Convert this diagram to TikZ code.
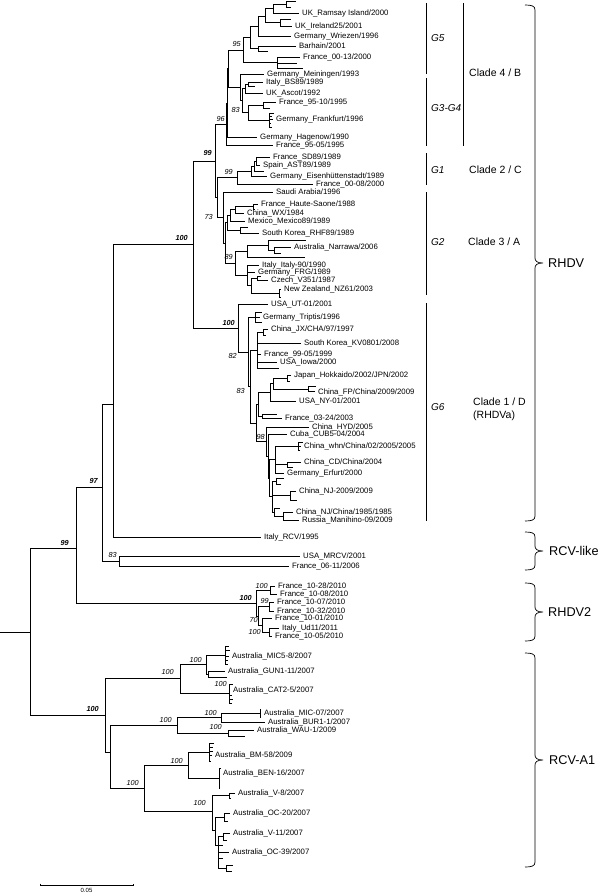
\documentclass[tikz,border=0pt]{standalone}
\usepackage{fontspec}
\setmainfont{Liberation Sans}
\usetikzlibrary{positioning}

\begin{document}
\begin{tikzpicture}[x=1pt,y=-1pt,
   every edge/.style={draw,line width=.7pt,to path={|- (\tikztotarget)}},
   taxon/.style={inner sep=0pt,text height=5.6pt,text depth=0pt,font=\fontsize{7.8}{9}\selectfont},
   boot/.style={inner sep=0pt,anchor=east,text height=5.3pt,text depth=0pt,font=\fontsize{7.3}{9}\selectfont\itshape},
   bboot/.style={boot,font=\fontsize{7.3}{9}\selectfont\bfseries\itshape},
   group/.style={inner sep=0pt,anchor=west,text height=7.2pt,text depth=0pt,font=\fontsize{10}{12}\selectfont\itshape},
   clade/.style={inner sep=0pt,anchor=west,text height=7.5pt,text depth=0pt,font=\fontsize{10.5}{13}\selectfont},
   virus/.style={inner sep=0pt,anchor=west,text height=9.1pt,text depth=0pt,font=\fontsize{12.7}{15}\selectfont},
   gbar/.style={line width=.7pt},
   grpbrace/.style={line width=.7pt}]
   \useasboundingbox (0,0) rectangle (600,894);

   \coordinate (base) at (0,632);
   \coordinate (root) at (30,632);
   \coordinate (n76) at (76,548);
   \coordinate (n102) at (102,487);
   \coordinate (n113) at (113,404);
   \coordinate (n119) at (119,561);
   \coordinate (rhdv) at (193,244);
   \coordinate (r2) at (256,603);
   \coordinate (a1) at (105,715);

   \draw[line width=.7pt] (base) -- (root);
   \path (root) edge (n76) edge (a1);
   \path (n76) edge (n102) edge (r2);
   \path (n102) edge (n113) edge (n119);

   % clade 4 / B
   \coordinate (n215) at (215,161);
   \coordinate (c4) at (226,124);
   \coordinate (k1) at (227,103);
   \coordinate (k2) at (228,68);
   \coordinate (g5) at (243,50);
   \coordinate (g5a) at (250,37);
   \coordinate (t0) at (258,26);
   \coordinate (t1) at (265,16);
   \coordinate (t2) at (273,8.5);
   \coordinate (t3) at (286,4.2);
   \coordinate (irl) at (280,22.5);
   \coordinate (barh) at (258,48.5);
   \coordinate (f0013) at (277,62.5);
   \coordinate (g34) at (240,87);
   \coordinate (g34a) at (242,100.5);
   \coordinate (g34b) at (245,88.5);
   \coordinate (bsn) at (248,84);
   \coordinate (g83) at (248,112.5);
   \coordinate (f9510) at (263,105);
   \coordinate (frank) at (269,120);
   \coordinate (l1) at (296,1.5);
   \coordinate (l2) at (291,7);
   \coordinate (ramsay) at (299,13);
   \coordinate (l3) at (291,19);
   \coordinate (ireland) at (292,26);
   \coordinate (wriezen) at (291,36);
   \coordinate (barhain) at (296,46);
   \coordinate (l4) at (268,51);
   \coordinate (fr0013) at (300,57);
   \coordinate (l5) at (297,63);
   \coordinate (l6) at (303,68);
   \coordinate (meiningen) at (264,74);
   \coordinate (bs89) at (263,82);
   \coordinate (l7) at (255,86);
   \coordinate (ascot) at (263,93);
   \coordinate (fr9510) at (276,102);
   \coordinate (l8) at (270,108);
   \coordinate (l9) at (274,113);
   \coordinate (l10) at (272,116);
   \coordinate (frankfurt) at (273,119);
   \coordinate (l11) at (271,123);
   \coordinate (l12) at (272,127);
   \coordinate (hagenow) at (257,137);
   \coordinate (fr9505) at (273,145);

   \path (c4) edge (k1) edge (fr9505);
   \path (k1) edge (k2) edge (hagenow);
   \path (k2) edge (g5) edge (g34);
   \path (g5) edge (g5a) edge (f0013);
   \path (g5a) edge (t0) edge (barh);
   \path (t0) edge (t1) edge (wriezen);
   \path (t1) edge (t2) edge (irl);
   \path (t2) edge (t3) edge (ramsay);
   \path (t3) edge (l1) edge (l2);
   \path (irl) edge (l3) edge (ireland);
   \path (barh) edge (barhain) edge (l4);
   \path (f0013) edge (fr0013) edge (l5) edge (l6);
   \path (g34) edge (meiningen) edge (g34a);
   \path (g34a) edge (g34b) edge (g83);
   \path (g34b) edge (bsn) edge (ascot);
   \path (bsn) edge (bs89) edge (l7);
   \path (g83) edge (f9510) edge (frank);
   \path (f9510) edge (fr9510) edge (l8);
   \path (frank) edge (l9) edge (l10) edge (frankfurt) edge (l11) edge (l12);

   \node[taxon,right=3pt of ramsay] (t-ramsay) {UK\_Ramsay Island/2000};
   \node[taxon,right=3pt of ireland] (t-ireland) {UK\_Ireland25/2001};
   \node[taxon,right=3pt of wriezen] (t-wriezen) {Germany\_Wriezen/1996};
   \node[taxon,right=3pt of barhain] (t-barhain) {Barhain/2001};
   \node[taxon,right=3pt of fr0013] (t-fr0013) {France\_00-13/2000};
   \node[taxon,right=3pt of meiningen] (t-meiningen) {Germany\_Meiningen/1993};
   \node[taxon,right=3pt of bs89] (t-bs89) {Italy\_BS89/1989};
   \node[taxon,right=3pt of ascot] (t-ascot) {UK\_Ascot/1992};
   \node[taxon,right=3pt of fr9510] (t-fr9510) {France\_95-10/1995};
   \node[taxon,right=3pt of frankfurt] (t-frankfurt) {Germany\_Frankfurt/1996};
   \node[taxon,right=3pt of hagenow] (t-hagenow) {Germany\_Hagenow/1990};
   \node[taxon,right=3pt of fr9505] (t-fr9505) {France\_95-05/1995};

   % clades 2 / C and 3 / A
   \coordinate (n217) at (217,197.5);
   \coordinate (g1) at (237,177.5);
   \coordinate (g1a) at (251,171);
   \coordinate (g1b) at (254,166);
   \coordinate (g1c) at (256,161);
   \coordinate (sd89) at (270,157);
   \coordinate (ast89) at (260,165);
   \coordinate (l13) at (264,171);
   \coordinate (eisen) at (267,176);
   \coordinate (fr0008) at (313,184);
   \coordinate (g2) at (223,217.5);
   \coordinate (g2b) at (225,243);
   \coordinate (h5) at (227,222.5);
   \coordinate (h3) at (230,215);
   \coordinate (h2) at (235,209.5);
   \coordinate (h1) at (253,206.5);
   \coordinate (h4) at (240,230);
   \coordinate (n89) at (235,263);
   \coordinate (narA) at (247,251);
   \coordinate (narB) at (268,245);
   \coordinate (narC) at (274,250);
   \coordinate (i3) at (247,275);
   \coordinate (i2) at (251,285.5);
   \coordinate (i1) at (257,278);
   \coordinate (nzn) at (279,293);
   \coordinate (saudi) at (273,192);
   \coordinate (haute) at (258,204);
   \coordinate (l14) at (255,209);
   \coordinate (wx) at (244,213);
   \coordinate (mexico) at (245,221);
   \coordinate (l15) at (248,227);
   \coordinate (rhf89) at (259,233);
   \coordinate (l16) at (306,240);
   \coordinate (narrawa) at (291,247);
   \coordinate (l17) at (281,253);
   \coordinate (l18) at (305,257);
   \coordinate (italy90) at (259,265);
   \coordinate (frg) at (255,272);
   \coordinate (l19) at (261,276);
   \coordinate (czech) at (268,280);
   \coordinate (nz61) at (281,289);
   \coordinate (l20) at (280,293);
   \coordinate (l21) at (281,297);

   \path (n215) edge (c4) edge (n217);
   \path (n217) edge (g1) edge (g2);
   \path (g1) edge (g1a) edge (fr0008);
   \path (g1a) edge (g1b) edge (eisen);
   \path (g1b) edge (g1c) edge (l13);
   \path (g1c) edge (sd89) edge (ast89);
   \path (g2) edge (saudi) edge (g2b);
   \path (g2b) edge (h5) edge (n89);
   \path (h5) edge (h3) edge (h4);
   \path (h3) edge (h2) edge (mexico);
   \path (h2) edge (h1) edge (wx);
   \path (h1) edge (haute) edge (l14);
   \path (h4) edge (l15) edge (rhf89);
   \path (n89) edge (narA) edge (i3);
   \path (narA) edge (narB) edge (l18);
   \path (narB) edge (l16) edge (narC);
   \path (narC) edge (narrawa) edge (l17);
   \path (i3) edge (italy90) edge (frg) edge (i2);
   \path (i2) edge (i1) edge (nzn);
   \path (i1) edge (l19) edge (czech);
   \path (nzn) edge (nz61) edge (l20) edge (l21);

   \node[taxon,right=3pt of sd89] (t-sd89) {France\_SD89/1989};
   \node[taxon,right=3pt of ast89] (t-ast89) {Spain\_AST89/1989};
   \node[taxon,right=3pt of eisen] (t-eisen) {Germany\_Eisenhüttenstadt/1989};
   \node[taxon,right=3pt of fr0008] (t-fr0008) {France\_00-08/2000};
   \node[taxon,right=3pt of saudi] (t-saudi) {Saudi Arabia/1996};
   \node[taxon,right=3pt of haute] (t-haute) {France\_Haute-Saone/1988};
   \node[taxon,right=3pt of wx] (t-wx) {China\_WX/1984};
   \node[taxon,right=3pt of mexico] (t-mexico) {Mexico\_Mexico89/1989};
   \node[taxon,right=3pt of rhf89] (t-rhf89) {South Korea\_RHF89/1989};
   \node[taxon,right=3pt of narrawa] (t-narrawa) {Australia\_Narrawa/2006};
   \node[taxon,right=3pt of italy90] (t-italy90) {Italy\_Italy-90/1990};
   \node[taxon,right=3pt of frg] (t-frg) {Germany\_FRG/1989};
   \node[taxon,right=3pt of czech] (t-czech) {Czech\_V351/1987};
   \node[taxon,right=3pt of nz61] (t-nz61) {New Zealand\_NZ61/2003};

   % clade 1 / D
   \coordinate (g6) at (238,328);
   \coordinate (n82) at (248,352);
   \coordinate (trip) at (255,317);
   \coordinate (n83) at (250,386.5);
   \coordinate (jxc) at (257,350);
   \coordinate (jxn) at (263,332);
   \coordinate (lowc) at (256,423);
   \coordinate (upg) at (258,404);
   \coordinate (jfny) at (270,392);
   \coordinate (jfn) at (273,383.5);
   \coordinate (jpn) at (287,378);
   \coordinate (fpn) at (308,389);
   \coordinate (f0324) at (262,416);
   \coordinate (n98) at (266,441.5);
   \coordinate (m1) at (268,456);
   \coordinate (m2) at (269,478);
   \coordinate (m3) at (275,459.5);
   \coordinate (whn) at (298,446);
   \coordinate (cdn) at (287,464.5);
   \coordinate (m5) at (272,496.5);
   \coordinate (ersm) at (276,481);
   \coordinate (nj09n) at (290,495.5);
   \coordinate (njr) at (274,512);
   \coordinate (nj85n) at (283,516);
   \coordinate (ut01) at (268,304);
   \coordinate (l22) at (262,312);
   \coordinate (triptis) at (260,317);
   \coordinate (l23) at (262,322);
   \coordinate (jx97) at (268,329);
   \coordinate (l24) at (266,335);
   \coordinate (kv0801) at (301,343);
   \coordinate (fr9905) at (261,354);
   \coordinate (iowa) at (277,362);
   \coordinate (l25) at (279,368);
   \coordinate (hokkaido) at (291,375);
   \coordinate (l26) at (290,381);
   \coordinate (l27) at (316,386.5);
   \coordinate (fp09) at (315,391.5);
   \coordinate (ny01) at (296,401);
   \coordinate (l28) at (277,414);
   \coordinate (fr0324) at (282,418);
   \coordinate (hyd) at (309,427);
   \coordinate (cub5) at (287,434);
   \coordinate (l29) at (303,442);
   \coordinate (whn05) at (301,446);
   \coordinate (l30) at (300,450);
   \coordinate (cd04) at (301,462);
   \coordinate (l31) at (293,467);
   \coordinate (erfurt) at (284,473);
   \coordinate (l32) at (284,478);
   \coordinate (l33) at (281,484);
   \coordinate (nj09) at (296,491);
   \coordinate (l34) at (297,500);
   \coordinate (l35) at (280,508);
   \coordinate (nj85) at (293,512);
   \coordinate (manihino) at (299,520);

   \path (rhdv) edge (n215) edge (g6);
   \path (g6) edge (ut01) edge (n82);
   \path (n82) edge (trip) edge (n83);
   \path (trip) edge (l22) edge (triptis) edge (l23);
   \path (n83) edge (jxc) edge (lowc);
   \path (jxc) edge (jxn) edge (kv0801) edge (fr9905) edge (iowa) edge (l25);
   \path (jxn) edge (jx97) edge (l24);
   \path (lowc) edge (upg) edge (n98);
   \path (upg) edge (jfny) edge (f0324);
   \path (jfny) edge (jfn) edge (ny01);
   \path (jfn) edge (jpn) edge (fpn);
   \path (jpn) edge (hokkaido) edge (l26);
   \path (fpn) edge (l27) edge (fp09);
   \path (f0324) edge (l28) edge (fr0324);
   \path (n98) edge (hyd) edge (m1);
   \path (m1) edge (cub5) edge (m2);
   \path (m2) edge (m3) edge (m5);
   \path (m3) edge (whn) edge (cdn) edge (erfurt);
   \path (whn) edge (l29) edge (whn05) edge (l30);
   \path (cdn) edge (cd04) edge (l31);
   \path (m5) edge (ersm) edge (nj09n) edge (njr);
   \path (ersm) edge (l32) edge (l33);
   \path (nj09n) edge (nj09) edge (l34);
   \path (njr) edge (l35) edge (nj85n);
   \path (nj85n) edge (nj85) edge (manihino);

   \node[taxon,right=3pt of ut01] (t-ut01) {USA\_UT-01/2001};
   \node[taxon,right=3pt of triptis] (t-triptis) {Germany\_Triptis/1996};
   \node[taxon,right=3pt of jx97] (t-jx97) {China\_JX/CHA/97/1997};
   \node[taxon,right=3pt of kv0801] (t-kv0801) {South Korea\_KV0801/2008};
   \node[taxon,right=3pt of fr9905] (t-fr9905) {France\_99-05/1999};
   \node[taxon,right=3pt of iowa] (t-iowa) {USA\_Iowa/2000};
   \node[taxon,right=3pt of hokkaido] (t-hokkaido) {Japan\_Hokkaido/2002/JPN/2002};
   \node[taxon,right=3pt of fp09] (t-fp09) {China\_FP/China/2009/2009};
   \node[taxon,right=3pt of ny01] (t-ny01) {USA\_NY-01/2001};
   \node[taxon,right=3pt of fr0324] (t-fr0324) {France\_03-24/2003};
   \node[taxon,right=3pt of hyd] (t-hyd) {China\_HYD/2005};
   \node[taxon,right=3pt of cub5] (t-cub5) {Cuba\_CUB5-04/2004};
   \node[taxon,right=3pt of whn05] (t-whn05) {China\_whn/China/02/2005/2005};
   \node[taxon,right=3pt of cd04] (t-cd04) {China\_CD/China/2004};
   \node[taxon,right=3pt of erfurt] (t-erfurt) {Germany\_Erfurt/2000};
   \node[taxon,right=3pt of nj09] (t-nj09) {China\_NJ-2009/2009};
   \node[taxon,right=3pt of nj85] (t-nj85) {China\_NJ/China/1985/1985};
   \node[taxon,right=3pt of manihino] (t-manihino) {Russia\_Manihino-09/2009};

   % RCV-like
   \coordinate (italyrcv) at (261,537);
   \coordinate (mrcv) at (300,556);
   \coordinate (fr0611) at (289,566);
   \path (n113) edge (rhdv) edge (italyrcv);
   \path (n119) edge (mrcv) edge (fr0611);
   \node[taxon,right=3pt of italyrcv] (t-italyrcv) {Italy\_RCV/1995};
   \node[taxon,right=3pt of mrcv] (t-mrcv) {USA\_MRCV/2001};
   \node[taxon,right=3pt of fr0611] (t-fr0611) {France\_06-11/2006};

   % RHDV2
   \coordinate (a28) at (270,590);
   \coordinate (b2) at (258,616);
   \coordinate (c99) at (269,606.5);
   \coordinate (d70) at (262,625);
   \coordinate (e100) at (269,632);
   \coordinate (fr1028) at (275,586);
   \coordinate (fr1008) at (277,594);
   \coordinate (fr1007) at (274,602);
   \coordinate (fr1032) at (274,611);
   \coordinate (fr1001) at (272,618);
   \coordinate (ud11) at (279,628);
   \coordinate (fr1005) at (272,636);
   \path (r2) edge (a28) edge (b2);
   \path (a28) edge (fr1028) edge (fr1008);
   \path (b2) edge (c99) edge (d70);
   \path (c99) edge (fr1007) edge (fr1032);
   \path (d70) edge (fr1001) edge (e100);
   \path (e100) edge (ud11) edge (fr1005);
   \node[taxon,right=3pt of fr1028] (t-fr1028) {France\_10-28/2010};
   \node[taxon,right=3pt of fr1008] (t-fr1008) {France\_10-08/2010};
   \node[taxon,right=3pt of fr1007] (t-fr1007) {France\_10-07/2010};
   \node[taxon,right=3pt of fr1032] (t-fr1032) {France\_10-32/2010};
   \node[taxon,right=3pt of fr1001] (t-fr1001) {France\_10-01/2010};
   \node[taxon,right=3pt of ud11] (t-ud11) {Italy\_Ud11/2011};
   \node[taxon,right=3pt of fr1005] (t-fr1005) {France\_10-05/2010};

   % RCV-A1
   \coordinate (ma) at (180,678);
   \coordinate (mg) at (206,664.5);
   \coordinate (mic5n) at (225,655);
   \coordinate (gunn) at (208,674);
   \coordinate (catn) at (229,693.5);
   \coordinate (b110) at (110,752);
   \coordinate (mbw) at (177,725);
   \coordinate (mbn) at (221,717.5);
   \coordinate (mic07n) at (260,713);
   \coordinate (waun) at (228,733);
   \coordinate (bv) at (144,788);
   \coordinate (bb) at (188,765);
   \coordinate (bmn) at (209,752);
   \coordinate (benn) at (219,778);
   \coordinate (vo) at (212,811);
   \coordinate (v8n) at (229,795.5);
   \coordinate (vob) at (215,830);
   \coordinate (oc20n) at (224,817);
   \coordinate (voc) at (218,845);
   \coordinate (v11n) at (223,836.5);
   \coordinate (bn) at (226,868);
   \coordinate (l36) at (229,646);
   \coordinate (l37) at (230,650);
   \coordinate (mic58) at (229,656);
   \coordinate (l38) at (228,660);
   \coordinate (l39) at (228,664);
   \coordinate (gun1) at (225,671);
   \coordinate (l40) at (227,677);
   \coordinate (l41) at (233,684);
   \coordinate (cat25) at (230,690);
   \coordinate (l42) at (232,695);
   \coordinate (l43) at (233,699);
   \coordinate (l44) at (232,703);
   \coordinate (l45) at (261,709);
   \coordinate (mic07) at (261,713);
   \coordinate (l46) at (261,717);
   \coordinate (bur1) at (265,722);
   \coordinate (wau1) at (254,730);
   \coordinate (l47) at (245,736);
   \coordinate (l48) at (214,743);
   \coordinate (l49) at (213,747);
   \coordinate (l50) at (213,751);
   \coordinate (bm58) at (212,755);
   \coordinate (l51) at (211,761);
   \coordinate (l52) at (221,768);
   \coordinate (ben16) at (220,773);
   \coordinate (l53) at (220,778);
   \coordinate (l54) at (220,783);
   \coordinate (l55) at (220,788);
   \coordinate (v8) at (235,793);
   \coordinate (l56) at (231,798);
   \coordinate (oc20) at (230,813);
   \coordinate (l57) at (228,821);
   \coordinate (v11) at (230,833);
   \coordinate (l58) at (227,840);
   \coordinate (l59) at (223,845);
   \coordinate (oc39) at (229,852);
   \coordinate (l60) at (223,858);
   \coordinate (l61) at (233,865);
   \coordinate (l62) at (232,871);

   \path (a1) edge (ma) edge (b110);
   \path (ma) edge (mg) edge (catn);
   \path (mg) edge (mic5n) edge (gunn);
   \path (mic5n) edge (l36) edge (l37) edge (mic58) edge (l38) edge (l39);
   \path (gunn) edge (gun1) edge (l40);
   \path (catn) edge (l41) edge (cat25) edge (l42) edge (l43) edge (l44);
   \path (b110) edge (mbw) edge (bv);
   \path (mbw) edge (mbn) edge (waun);
   \path (mbn) edge (mic07n) edge (bur1);
   \path (mic07n) edge (l45) edge (mic07) edge (l46);
   \path (waun) edge (wau1) edge (l47);
   \path (bv) edge (bb) edge (vo);
   \path (bb) edge (bmn) edge (benn);
   \path (bmn) edge (l48) edge (l49) edge (l50) edge (bm58) edge (l51);
   \path (benn) edge (l52) edge (ben16) edge (l53) edge (l54) edge (l55);
   \path (vo) edge (v8n) edge (vob);
   \path (v8n) edge (v8) edge (l56);
   \path (vob) edge (oc20n) edge (voc);
   \path (oc20n) edge (oc20) edge (l57);
   \path (voc) edge (v11n) edge (l59) edge (oc39) edge (l60) edge (bn);
   \path (v11n) edge (v11) edge (l58);
   \path (bn) edge (l61) edge (l62);

   \node[taxon,right=3pt of mic58] (t-mic58) {Australia\_MIC5-8/2007};
   \node[taxon,right=3pt of gun1] (t-gun1) {Australia\_GUN1-11/2007};
   \node[taxon,right=3pt of cat25] (t-cat25) {Australia\_CAT2-5/2007};
   \node[taxon,right=3pt of mic07] (t-mic07) {Australia\_MIC-07/2007};
   \node[taxon,right=3pt of bur1] (t-bur1) {Australia\_BUR1-1/2007};
   \node[taxon,right=3pt of wau1] (t-wau1) {Australia\_WAU-1/2009};
   \node[taxon,right=3pt of bm58] (t-bm58) {Australia\_BM-58/2009};
   \node[taxon,right=3pt of ben16] (t-ben16) {Australia\_BEN-16/2007};
   \node[taxon,right=3pt of v8] (t-v8) {Australia\_V-8/2007};
   \node[taxon,right=3pt of oc20] (t-oc20) {Australia\_OC-20/2007};
   \node[taxon,right=3pt of v11] (t-v11) {Australia\_V-11/2007};
   \node[taxon,right=3pt of oc39] (t-oc39) {Australia\_OC-39/2007};

   % bootstrap values
   \node[boot] (b95) at (241,44) {95};
   \node[boot] (b96) at (225,119) {96};
   \node[boot] (b83a) at (240,110) {83};
   \node[bboot] (b99a) at (212,153) {99};
   \node[boot] (b99b) at (233,172) {99};
   \node[boot] (b73) at (213,217) {73};
   \node[boot] (b89) at (233,257) {89};
   \node[bboot] (b100a) at (188,238) {100};
   \node[bboot] (b100b) at (235,323) {100};
   \node[boot] (b82) at (237,356) {82};
   \node[boot] (b83b) at (245,391) {83};
   \node[boot] (b98) at (265,437) {98};
   \node[bboot] (b97) at (98,481) {97};
   \node[bboot] (b99c) at (69,543) {99};
   \node[boot] (b83c) at (117,555) {83};
   \node[bboot] (b100c) at (252,598) {100};
   \node[boot] (b100d) at (268,586) {100};
   \node[boot] (b99d) at (269,601) {99};
   \node[boot] (b70) at (258,620) {70};
   \node[boot] (b100e) at (261,632) {100};
   \node[bboot] (b100f) at (99,709) {100};
   \node[boot] (b100g) at (174,672) {100};
   \node[boot] (b100h) at (202,660) {100};
   \node[boot] (b100i) at (227,684) {100};
   \node[boot] (b100j) at (172,720) {100};
   \node[boot] (b100k) at (217,713) {100};
   \node[boot] (b100l) at (222,727) {100};
   \node[boot] (b100m) at (139,783) {100};
   \node[boot] (b100n) at (183,761) {100};
   \node[boot] (b100o) at (206,803) {100};

   % groups and clades
   \draw[gbar] (426,3) -- (426,74);
   \draw[gbar] (426,78) -- (426,146);
   \draw[gbar] (426,153) -- (426,185);
   \draw[gbar] (426,192) -- (426,295);
   \draw[gbar] (426,303) -- (426,521);
   \draw[gbar] (463,3) -- (463,146);
   \node[group] (lg5) at (431,38) {G5};
   \node[group] (lg34) at (431,108) {G3-G4};
   \node[group] (lg1) at (431,170) {G1};
   \node[group] (lg2) at (431,242) {G2};
   \node[group] (lg6) at (431,407) {G6};
   \node[clade] (lc4) at (469,73) {Clade 4 / B};
   \node[clade] (lc2) at (469,170) {Clade 2 / C};
   \node[clade] (lc3) at (468,242) {Clade 3 / A};
   \node[clade] (lc1) at (473,402) {Clade 1 / D};
   \node[clade] (lc1b) at (473,415) {(RHDVa)};

   % braces
   \draw[grpbrace] (525,5) .. controls (532,5) and (535,6) .. (535,10) -- (535,258)
      .. controls (535,261) and (537,263) .. (543,263) .. controls (537,263) and (535,265) .. (535,268)
      -- (535,516) .. controls (535,520) and (532,521) .. (525,521);
   \draw[grpbrace] (525,532) .. controls (532,532) and (535,533) .. (535,537) -- (535,546)
      .. controls (535,549) and (537,551) .. (543,551) .. controls (537,551) and (535,553) .. (535,556)
      -- (535,565) .. controls (535,569) and (532,570) .. (525,570);
   \draw[grpbrace] (525,583) .. controls (532,583) and (535,584) .. (535,588) -- (535,607)
      .. controls (535,610) and (537,612) .. (543,612) .. controls (537,612) and (535,614) .. (535,617)
      -- (535,636) .. controls (535,640) and (532,641) .. (525,641);
   \draw[grpbrace] (525,653) .. controls (532,653) and (535,654) .. (535,658) -- (535,755)
      .. controls (535,758) and (537,760) .. (543,760) .. controls (537,760) and (535,762) .. (535,765)
      -- (535,862) .. controls (535,866) and (532,867) .. (525,867);
   \node[virus] (lrhdv) at (548,263) {RHDV};
   \node[virus] (lrcv) at (549,551) {RCV-like};
   \node[virus] (lrhdv2) at (548,612) {RHDV2};
   \node[virus] (lrcva1) at (549,760) {RCV-A1};

   % scale
   \coordinate (s0) at (40,885);
   \coordinate (s1) at (133,885);
   \draw[line width=.7pt] ([yshift=1.5pt]s0) -- (s0) -- (s1) -- ([yshift=1.5pt]s1);
   \node[inner sep=0pt,font=\fontsize{6}{7}\selectfont] (scale) at (86.5,890.5) {0.05};
\end{tikzpicture}
\end{document}
